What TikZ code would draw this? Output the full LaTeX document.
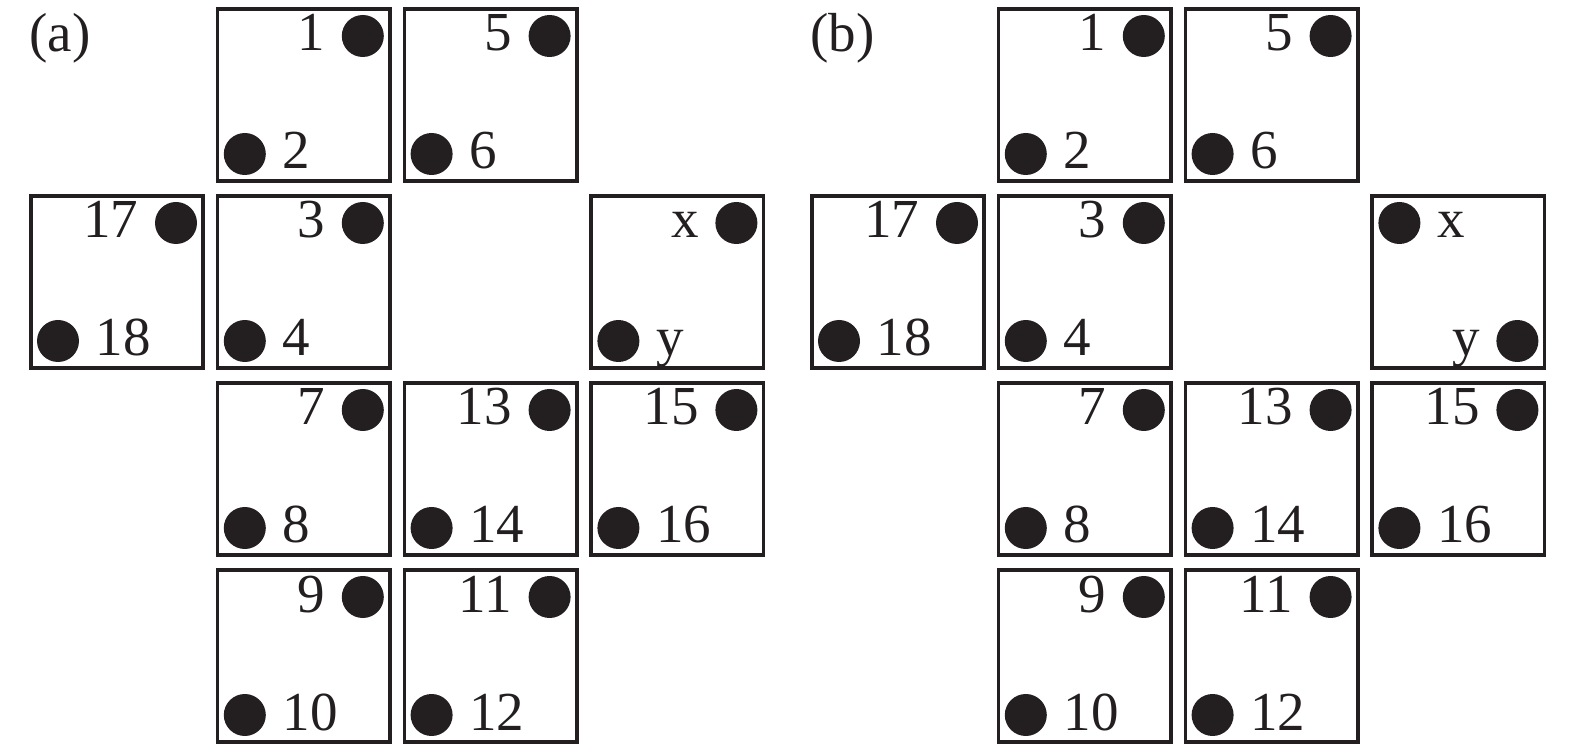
\documentclass[tikz,border=0pt]{standalone}
\usepackage{fontspec}
\setmainfont{Liberation Serif}
\definecolor{ink}{HTML}{231F20}

% one square: name, column, row, upper label, lower label
\newcommand{\sqcell}[5]{%
	\node[cell] (#1) at (117+186.8*#2, 95+187*#3) {};
	\node[dot] (#1u) at ([shift={(-29,29)}]#1.north east) {};
	\node[num, anchor=base east] (#1ul) at ([shift={(-16,15)}]#1u.west) {#4};
	\node[dot] (#1d) at ([shift={(29,-29)}]#1.south west) {};
	\node[num, anchor=base west] (#1dl) at ([shift={(16,15)}]#1d.east) {#5};
}
% same, dots on the other corners
\newcommand{\sqcellflip}[5]{%
	\node[cell] (#1) at (117+186.8*#2, 95+187*#3) {};
	\node[dot] (#1u) at ([shift={(29,29)}]#1.north west) {};
	\node[num, anchor=base west] (#1ul) at ([shift={(16,15)}]#1u.east) {#4};
	\node[dot] (#1d) at ([shift={(-29,-29)}]#1.south east) {};
	\node[num, anchor=base east] (#1dl) at ([shift={(-16,15)}]#1d.west) {#5};
}

\begin{document}
\begin{tikzpicture}[x=0.5pt, y=-0.5pt,
	cell/.style={draw=ink, line width=1.8pt, minimum size=86.2pt, inner sep=0pt},
	dot/.style={circle, fill=ink, minimum size=21pt, inner sep=0pt},
	num/.style={inner sep=0pt, text=ink, font=\fontsize{27.5}{30}\selectfont}]
	
	\useasboundingbox (0,0) rectangle (1575,753);
	
	% (a)
	\node[num, anchor=base west] (laba) at (29,52) {(a)};
	\sqcell{a1}{1}{0}{1}{2}
	\sqcell{a5}{2}{0}{5}{6}
	\sqcell{a17}{0}{1}{17}{18}
	\sqcell{a3}{1}{1}{3}{4}
	\sqcell{ax}{3}{1}{x}{y}
	\sqcell{a7}{1}{2}{7}{8}
	\sqcell{a13}{2}{2}{13}{14}
	\sqcell{a15}{3}{2}{15}{16}
	\sqcell{a9}{1}{3}{9}{10}
	\sqcell{a11}{2}{3}{11}{12}
	
	% (b)
	\begin{scope}[xshift=390.5pt]
	\node[num, anchor=base west] (labb) at (29,52) {(b)};
	\sqcell{b1}{1}{0}{1}{2}
	\sqcell{b5}{2}{0}{5}{6}
	\sqcell{b17}{0}{1}{17}{18}
	\sqcell{b3}{1}{1}{3}{4}
	\sqcellflip{bx}{3}{1}{x}{y}
	\sqcell{b7}{1}{2}{7}{8}
	\sqcell{b13}{2}{2}{13}{14}
	\sqcell{b15}{3}{2}{15}{16}
	\sqcell{b9}{1}{3}{9}{10}
	\sqcell{b11}{2}{3}{11}{12}
	\end{scope}
\end{tikzpicture}
\end{document}
